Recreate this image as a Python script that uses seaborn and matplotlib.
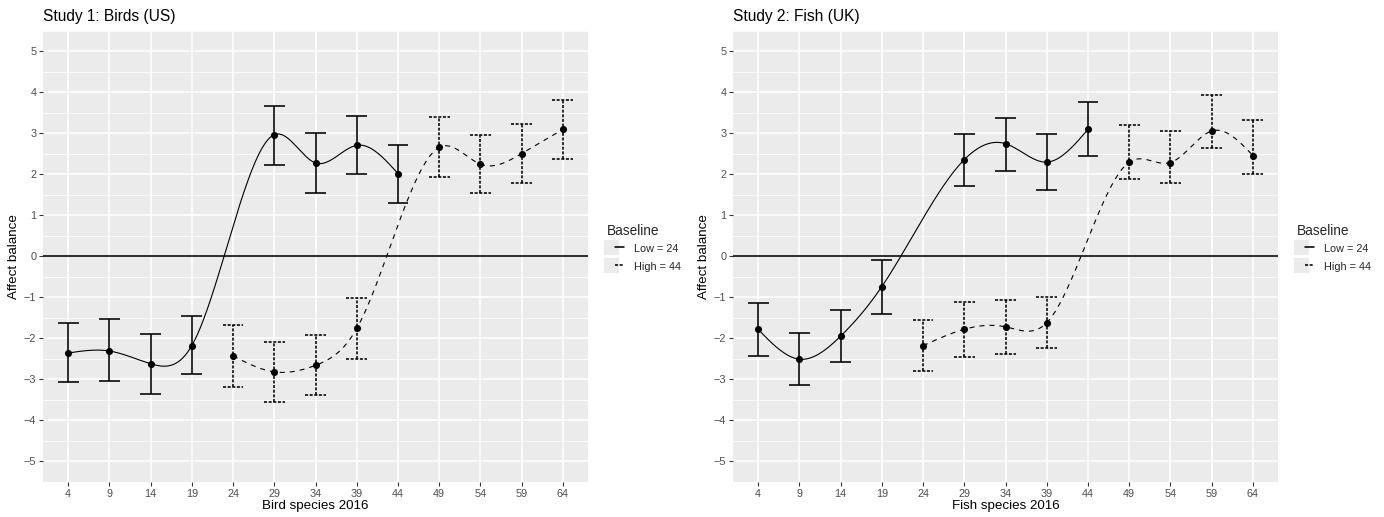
import numpy as np
import pandas as pd
import matplotlib
matplotlib.use("Agg")
import matplotlib.pyplot as plt
import seaborn as sns
from matplotlib.lines import Line2D
from matplotlib.legend_handler import HandlerTuple

# ---------------- data ----------------
x_ticks = [4, 9, 14, 19, 24, 29, 34, 39, 44, 49, 54, 59, 64]

birds_low_x = [4, 9, 14, 19, 29, 34, 39, 44]
birds_low_y = [-2.36, -2.31, -2.62, -2.18, 2.97, 2.28, 2.71, 2.02]
birds_low_lo = [-3.07, -3.05, -3.35, -2.87, 2.24, 1.55, 2.01, 1.31]
birds_low_hi = [-1.62, -1.54, -1.89, -1.45, 3.67, 3.01, 3.43, 2.72]

birds_high_x = [24, 29, 34, 39, 49, 54, 59, 64]
birds_high_y = [-2.43, -2.82, -2.66, -1.76, 2.66, 2.25, 2.51, 3.10]
birds_high_lo = [-3.18, -3.56, -3.39, -2.51, 1.94, 1.54, 1.78, 2.38]
birds_high_hi = [-1.68, -2.10, -1.91, -1.01, 3.39, 2.97, 3.24, 3.82]

fish_low_x = [4, 9, 14, 19, 29, 34, 39, 44]
fish_low_y = [-1.78, -2.51, -1.95, -0.74, 2.36, 2.75, 2.30, 3.10]
fish_low_lo = [-2.43, -3.15, -2.59, -1.40, 1.71, 2.09, 1.62, 2.44]
fish_low_hi = [-1.13, -1.86, -1.30, -0.09, 2.98, 3.38, 2.98, 3.76]

fish_high_x = [24, 29, 34, 39, 49, 54, 59, 64]
fish_high_y = [-2.18, -1.78, -1.72, -1.62, 2.30, 2.29, 3.06, 2.46]
fish_high_lo = [-2.80, -2.45, -2.38, -2.24, 1.90, 1.79, 2.64, 2.02]
fish_high_hi = [-1.55, -1.11, -1.07, -0.99, 3.20, 3.06, 3.94, 3.32]

titles = ["Study 1: Birds (US)", "Study 2: Fish (UK)"]
xlabels = ["Bird species 2016", "Fish species 2016"]
legend_labels = ["Low = 24", "High = 44"]


def natural_spline(x, y, n=400):
    x = np.asarray(x, float)
    y = np.asarray(y, float)
    k = len(x)
    h = np.diff(x)
    A = np.zeros((k, k))
    r = np.zeros(k)
    A[0, 0] = 1
    A[-1, -1] = 1
    for i in range(1, k - 1):
        A[i, i - 1] = h[i - 1]
        A[i, i] = 2 * (h[i - 1] + h[i])
        A[i, i + 1] = h[i]
        r[i] = 6 * ((y[i + 1] - y[i]) / h[i] - (y[i] - y[i - 1]) / h[i - 1])
    M = np.linalg.solve(A, r)
    xs = np.linspace(x[0], x[-1], n)
    idx = np.clip(np.searchsorted(x, xs) - 1, 0, k - 2)
    x0, x1 = x[idx], x[idx + 1]
    hh = x1 - x0
    a = (x1 - xs) / hh
    b = (xs - x0) / hh
    ys = (a * y[idx] + b * y[idx + 1]
          + ((a ** 3 - a) * M[idx] + (b ** 3 - b) * M[idx + 1]) * hh ** 2 / 6)
    return xs, ys


# ---------------- style ----------------
sns.set_theme(style="darkgrid")
plt.rcParams["font.family"] = ["Liberation Sans", "DejaVu Sans"]
plt.rcParams["axes.facecolor"] = "#EBEBEB"

fig = plt.figure(figsize=(13.84, 5.17), dpi=100)
W, H = 1384, 517
panels = [(43.3, 587.7), (733.3, 1277.7)]
top_px, bot_px = 31.0, 481.7

datasets = [
    [(birds_low_x, birds_low_y, birds_low_lo, birds_low_hi),
     (birds_high_x, birds_high_y, birds_high_lo, birds_high_hi)],
    [(fish_low_x, fish_low_y, fish_low_lo, fish_low_hi),
     (fish_high_x, fish_high_y, fish_high_lo, fish_high_hi)],
]

curve_lw = 0.8
bar_lw = 1.15
curve_dash = (0, (4.5, 4.5))
bar_dash = (0, (1.9, 1.0))
cap_half = 1.27

for p, (l, r) in enumerate(panels):
    ax = fig.add_axes([l / W, 1 - bot_px / H, (r - l) / W, (bot_px - top_px) / H])
    ax.set_facecolor("#EBEBEB")
    for s in ax.spines.values():
        s.set_visible(False)

    ax.set_xlim(1, 67)
    ax.set_ylim(-5.5, 5.5)
    ax.set_xticks(x_ticks)
    ax.set_xticklabels([str(t) for t in x_ticks])
    ax.set_yticks(np.arange(-5, 6, 1))
    ax.set_yticks(np.arange(-5.5, 5.6, 1), minor=True)
    ax.grid(which="major", color="white", linewidth=1.1)
    ax.grid(which="minor", axis="y", color="white", linewidth=0.55)
    ax.grid(which="minor", axis="x", visible=False)
    ax.tick_params(axis="both", which="major", length=3, width=0.8, color="#333333",
                   labelcolor="#4D4D4D", labelsize=7.8, pad=2, bottom=True, left=True)
    ax.tick_params(axis="both", which="minor", length=0)

    ax.axhline(0, color="black", linewidth=1.15, zorder=2)

    for j, (xs_, ys_, lo_, hi_) in enumerate(datasets[p]):
        sx, sy = natural_spline(xs_, ys_)
        df_c = pd.DataFrame({"x": sx, "y": sy})
        sns.lineplot(data=df_c, x="x", y="y", ax=ax, color="black", linewidth=curve_lw,
                     sort=False, estimator=None, zorder=3,
                     linestyle="-" if j == 0 else curve_dash)
        ls = "solid" if j == 0 else bar_dash
        ax.vlines(xs_, lo_, hi_, colors="black", linewidths=bar_lw, linestyles=[ls], zorder=3)
        xa = np.asarray(xs_, float)
        ax.hlines(lo_, xa - cap_half, xa + cap_half, colors="black", linewidths=bar_lw,
                  linestyles=[ls], zorder=3)
        ax.hlines(hi_, xa - cap_half, xa + cap_half, colors="black", linewidths=bar_lw,
                  linestyles=[ls], zorder=3)
        df_p = pd.DataFrame({"x": xs_, "y": ys_})
        sns.scatterplot(data=df_p, x="x", y="y", ax=ax, color="black", s=26,
                        edgecolor="black", linewidth=0, zorder=4)

    ax.set_xlabel(xlabels[p], fontsize=9.6, color="black", labelpad=1)
    ax.set_ylabel("Affect balance", fontsize=9.6, color="black", labelpad=3)
    ax.set_title(titles[p], loc="left", fontsize=11.2, color="black", pad=7)

    def key_bg():
        return Line2D([], [], linestyle="none", marker="s", markersize=12.2,
                      markerfacecolor="#EBEBEB", markeredgecolor="white",
                      markeredgewidth=0.6)

    handles = [
        (key_bg(), Line2D([], [], color="black", linewidth=bar_lw, linestyle="-")),
        (key_bg(), Line2D([], [], color="black", linewidth=bar_lw, linestyle=bar_dash)),
    ]
    leg_x = (563.7) / (r - l)
    leg = ax.legend(handles, legend_labels, title="Baseline",
                    handler_map={tuple: HandlerTuple(ndivide=None, pad=0)},
                    loc="upper left",
                    bbox_to_anchor=(leg_x, (bot_px - 224) / (bot_px - top_px)),
                    frameon=False, fontsize=7.8, title_fontsize=9.8,
                    handlelength=1.55, handleheight=1.7, handletextpad=0.9,
                    labelspacing=0.3, borderpad=0, borderaxespad=0,
                    alignment="left", numpoints=1)

fig.savefig("out.png", dpi=100)
